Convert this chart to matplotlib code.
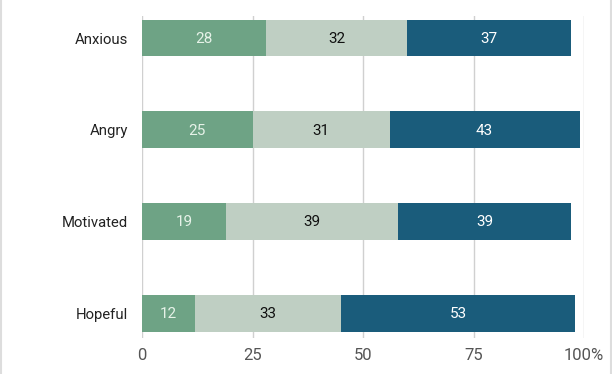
import matplotlib
matplotlib.use("Agg")
import matplotlib.pyplot as plt
from matplotlib.lines import Line2D

categories = ["Anxious", "Angry", "Motivated", "Hopeful"]
series1 = [28, 25, 19, 12]
series2 = [32, 31, 39, 33]
series3 = [37, 43, 39, 53]
xticks = [0, 25, 50, 75, 100]
xticklabels = ["0", "25", "50", "75", "100%"]

colors = ["#6ea385", "#bfcfc3", "#1a5c7b"]
text_colors = ["#e6f2e8", "#111111", "#ffffff"]

plt.rcParams['font.family'] = ['Roboto', 'DejaVu Sans']

fig = plt.figure(figsize=(6.12, 3.74), dpi=100)
ax = fig.add_axes([142/612, 36/374, (584-142)/612, (338-16)/374])

y = list(range(len(categories)))
left = [0]*len(categories)
for vals, c, tc in zip([series1, series2, series3], colors, text_colors):
    ax.barh(y, vals, left=left, height=0.4, color=c, zorder=3)
    for yi, l, v in zip(y, left, vals):
        ax.text(l + v/2, yi + 0.01, str(v), ha='center', va='center', color=tc,
                fontsize=11, zorder=4)
    left = [a + b for a, b in zip(left, vals)]

ax.set_ylim(3.27, -0.24)
ax.set_xlim(0, 100)
ax.set_yticks(y)
ax.set_yticklabels(categories, fontsize=10.7, color="#222222")
ax.set_xticks(xticks)
ax.set_xticklabels(xticklabels, fontsize=12, color="#555555")
ax.tick_params(axis='y', length=0, pad=10)
ax.tick_params(axis='x', length=0, pad=7)
ax.grid(axis='x', color="#d0d0d0", linewidth=1, zorder=0)
for s in ax.spines.values():
    s.set_visible(False)

fig.add_artist(Line2D([0.5/612, 0.5/612], [0, 1], color="#dddddd", linewidth=1.5, transform=fig.transFigure))
fig.add_artist(Line2D([610.5/612, 610.5/612], [0, 1], color="#dddddd", linewidth=1.5, transform=fig.transFigure))

fig.savefig("out.png", dpi=100)
